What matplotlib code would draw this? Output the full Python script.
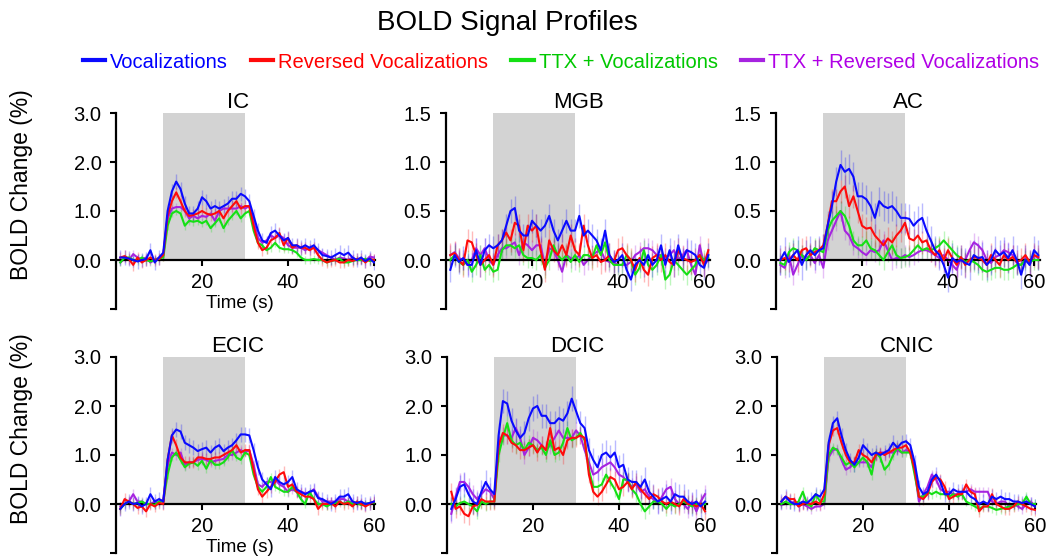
import numpy as np
import matplotlib.pyplot as plt
from matplotlib.lines import Line2D

plt.rcParams['font.family'] = ['Liberation Sans', 'DejaVu Sans']

# time axis (s), one sample per second
TIME = np.arange(1, 61)
TIME_LONG = np.arange(1, 62)

SERIES = ['Vocalizations', 'Reversed Vocalizations',
          'TTX + Vocalizations', 'TTX + Reversed Vocalizations']
LINE_COLORS = ['#0a0aff', '#ff0a0a', '#14e014', '#a623e0']
TEXT_COLORS = ['#0000ff', '#ff0000', '#00c800', '#b000e6']

STIM_ON, STIM_OFF = 11, 30

# ---- IC ----
ic_voc = [0.05, 0.05, 0.03, 0.0, -0.03, 0.0, 0.02, 0.2, -0.05, 0.05,
          0.15, 1.0, 1.4, 1.6, 1.45, 1.15, 0.95, 0.95, 1.05, 1.28,
          1.2, 1.05, 1.1, 1.05, 1.1, 1.15, 1.25, 1.25, 1.35, 1.3,
          1.2, 0.9, 0.6, 0.4, 0.35, 0.55, 0.6, 0.5, 0.4, 0.45,
          0.3, 0.3, 0.25, 0.3, 0.25, 0.3, 0.2, 0.1, 0.08, 0.05,
          0.1, 0.15, 0.1, 0.15, 0.05, 0.0, 0.05, -0.02, 0.03, -0.05]
ic_rev = [0.05, 0.08, 0.02, -0.1, 0.05, -0.05, 0.0, 0.05, 0.0, 0.02,
          0.1, 0.9, 1.2, 1.38, 1.2, 1.0, 0.9, 0.92, 0.95, 1.0,
          0.95, 0.92, 0.95, 1.0, 0.85, 1.0, 1.1, 1.2, 1.05, 1.1,
          1.1, 0.7, 0.35, 0.2, 0.25, 0.4, 0.45, 0.55, 0.3, 0.45,
          0.25, 0.3, 0.25, 0.25, 0.2, 0.25, 0.1, 0.0, -0.05, -0.02,
          0.0, -0.05, -0.05, 0.0, -0.02, 0.02, 0.03, -0.05, 0.02, 0.0]
ic_ttx_voc = [-0.05, 0.05, 0.05, 0.0, -0.02, 0.05, 0.0, -0.03, 0.0, 0.03,
              0.05, 0.7, 0.95, 1.0, 0.95, 0.7, 0.8, 0.78, 0.8, 0.75,
              0.8, 0.65, 0.75, 0.85, 0.65, 0.8, 0.9, 1.0, 0.85, 0.95,
              1.0, 0.6, 0.35, 0.3, 0.2, 0.25, 0.35, 0.25, 0.22, 0.22,
              0.2, 0.15, 0.05, 0.0, 0.0, 0.02, 0.0, 0.0, -0.05, -0.02,
              0.0, 0.03, -0.05, -0.05, -0.02, 0.0, 0.0, 0.02, -0.02, 0.0]
ic_ttx_rev = [-0.05, 0.02, 0.0, 0.12, 0.05, 0.02, 0.05, -0.05, 0.0, 0.05,
              0.1, 0.85, 1.05, 1.08, 1.08, 1.0, 0.85, 0.9, 0.85, 0.9,
              0.88, 0.95, 0.8, 1.0, 1.05, 1.05, 1.05, 1.05, 1.1, 1.05,
              1.1, 0.8, 0.45, 0.35, 0.4, 0.5, 0.45, 0.5, 0.45, 0.3,
              0.25, 0.25, 0.25, 0.2, 0.25, 0.25, 0.2, 0.15, 0.1, 0.05,
              0.0, 0.05, 0.03, 0.0, 0.05, 0.0, 0.0, -0.02, 0.07, 0.05]
ic_sem = [0.15, 0.12, 0.08, 0.08]

# ---- MGB ----
mgb_voc = [-0.1, 0.05, -0.02, 0.02, -0.05, -0.05, 0.1, -0.05, 0.1, 0.15,
           0.12, 0.15, 0.2, 0.35, 0.5, 0.53, 0.3, 0.25, 0.25, 0.4,
           0.35, 0.3, 0.35, 0.45, 0.3, 0.2, 0.3, 0.4, 0.3, 0.3,
           0.45, 0.25, 0.3, 0.25, 0.2, 0.1, 0.3, 0.05, -0.02, 0.0,
           0.05, -0.1, -0.2, -0.05, 0.0, -0.05, 0.05, -0.05, 0.0, 0.15,
           -0.05, 0.1, -0.05, 0.15, 0.0, 0.1, 0.08, 0.05, -0.05, -0.08, 0.05]
mgb_rev = [0.05, 0.07, 0.0, -0.05, 0.2, 0.18, 0.05, -0.05, 0.0, 0.05,
           -0.05, 0.15, 0.2, 0.28, 0.2, 0.38, 0.35, 0.1, 0.35, 0.3,
           0.35, 0.1, -0.1, 0.2, 0.1, 0.05, 0.15, 0.05, 0.25, 0.1,
           0.05, 0.35, 0.15, 0.02, 0.05, -0.02, 0.0, 0.05, -0.02, 0.1,
           0.12, 0.05, 0.0, -0.1, 0.02, -0.1, -0.15, 0.02, 0.05, 0.0,
           0.05, -0.02, -0.05, 0.1, 0.02, 0.0, -0.02, 0.0, 0.05, -0.05, 0.1]
mgb_ttx_voc = [0.0, 0.05, -0.02, -0.05, 0.0, -0.12, -0.05, 0.05, -0.1, -0.05,
               -0.12, -0.1, 0.1, 0.15, 0.15, 0.12, 0.15, 0.05, 0.02, 0.02,
               0.0, 0.05, -0.08, 0.0, 0.15, 0.05, 0.0, 0.05, -0.02, 0.05,
               -0.02, 0.05, 0.05, 0.02, 0.15, 0.05, 0.18, 0.0, -0.05, -0.05,
               -0.05, 0.05, 0.0, -0.15, -0.08, 0.1, -0.05, -0.1, -0.05, 0.05,
               -0.2, -0.15, 0.0, -0.05, -0.1, -0.15, -0.1, -0.05, 0.05, 0.0, 0.02]
mgb_ttx_rev = [0.05, 0.08, 0.02, 0.0, -0.05, 0.0, 0.12, 0.05, 0.12, 0.0,
               -0.05, 0.05, 0.12, 0.12, 0.15, 0.18, 0.05, 0.18, 0.15, 0.1,
               0.15, 0.15, -0.05, 0.12, 0.1, 0.0, -0.12, 0.05, 0.02, 0.0,
               0.05, -0.05, 0.0, 0.05, 0.08, 0.1, 0.0, -0.02, -0.02, -0.05,
               -0.05, -0.05, -0.02, 0.05, 0.08, 0.12, 0.12, 0.1, 0.05, 0.05,
               0.02, 0.05, 0.1, 0.0, 0.05, 0.1, -0.05, -0.15, 0.15, -0.05, 0.0]
mgb_sem = [0.12, 0.12, 0.1, 0.1]

# ---- AC ----
ac_voc = [0.0, 0.08, -0.02, 0.05, 0.1, -0.05, 0.05, 0.1, 0.05, 0.1,
          0.12, 0.35, 0.55, 0.8, 0.97, 0.9, 0.93, 0.85, 0.65, 0.65,
          0.62, 0.55, 0.43, 0.6, 0.55, 0.53, 0.55, 0.5, 0.43, 0.43,
          0.42, 0.35, 0.4, 0.43, 0.3, 0.2, 0.1, 0.05, -0.05, -0.18,
          0.02, -0.02, 0.0, -0.03, -0.05, 0.05, 0.02, 0.03, -0.05, 0.0,
          0.1, 0.05, 0.08, 0.02, 0.1, 0.0, -0.15, 0.0, -0.05, 0.1, 0.05]
ac_rev = [0.0, 0.02, 0.0, 0.05, 0.0, 0.1, 0.12, 0.05, 0.08, 0.1,
          0.15, 0.35, 0.6, 0.6, 0.7, 0.75, 0.55, 0.65, 0.5, 0.35,
          0.32, 0.33, 0.25, 0.2, 0.15, 0.22, 0.18, 0.25, 0.3, 0.38,
          0.22, 0.2, 0.25, 0.18, 0.2, 0.1, 0.05, 0.1, 0.0, 0.1,
          0.02, -0.05, 0.03, -0.05, 0.0, 0.03, 0.02, 0.0, -0.05, 0.05,
          0.0, -0.05, 0.05, 0.0, 0.03, -0.02, 0.0, 0.05, -0.02, 0.05, 0.03]
ac_ttx_voc = [-0.03, -0.05, 0.08, 0.12, 0.1, 0.05, 0.0, 0.05, 0.12, 0.1,
              0.08, 0.3, 0.4, 0.45, 0.5, 0.45, 0.35, 0.2, 0.15, 0.15,
              0.2, 0.12, 0.1, 0.05, 0.0, 0.08, 0.15, 0.05, 0.02, 0.03,
              0.05, 0.1, 0.15, 0.1, 0.12, 0.1, 0.12, 0.15, 0.2, 0.15,
              0.1, 0.05, 0.02, -0.02, 0.0, -0.02, -0.05, -0.1, -0.12, -0.1,
              -0.08, -0.08, -0.1, -0.1, -0.08, -0.05, -0.05, 0.0, -0.02, 0.0, 0.0]
ac_ttx_rev = [-0.05, -0.08, 0.05, -0.15, -0.05, 0.05, 0.02, 0.05, -0.03, 0.05,
              -0.08, 0.2, 0.3, 0.4, 0.5, 0.3, 0.25, 0.15, 0.12, 0.08,
              0.05, 0.1, 0.08, 0.1, 0.2, 0.1, 0.0, 0.02, 0.02, 0.05,
              0.03, 0.05, 0.08, 0.1, 0.1, 0.08, 0.05, 0.02, 0.05, 0.0,
              -0.05, -0.1, 0.02, 0.0, 0.1, 0.18, 0.15, 0.1, 0.0, -0.03,
              0.03, 0.05, 0.1, 0.08, 0.05, -0.03, -0.05, 0.02, -0.05, 0.05, 0.02]
ac_sem = [0.15, 0.12, 0.1, 0.1]

# ---- ECIC ----
ecic_voc = [-0.1, 0.0, 0.05, 0.0, 0.02, -0.05, 0.0, 0.2, 0.05, 0.1,
            0.05, 0.9, 1.4, 1.52, 1.48, 1.25, 1.2, 1.15, 1.08, 1.12,
            1.15, 1.05, 1.15, 1.2, 1.08, 1.15, 1.2, 1.3, 1.42, 1.42,
            1.4, 1.1, 0.75, 0.5, 0.4, 0.3, 0.55, 0.45, 0.4, 0.45,
            0.55, 0.3, 0.25, 0.2, 0.25, 0.28, 0.12, 0.1, 0.05, 0.0,
            0.05, 0.15, 0.15, 0.2, 0.05, 0.02, 0.05, 0.0, 0.02, 0.05]
ecic_rev = [-0.1, 0.1, 0.05, 0.0, -0.08, -0.05, -0.15, 0.0, -0.05, 0.02,
            0.0, 0.9, 1.4, 1.2, 0.95, 0.85, 0.85, 0.85, 0.95, 0.95,
            0.92, 0.92, 0.95, 0.95, 1.0, 1.05, 1.1, 1.2, 1.05, 1.1,
            1.1, 0.7, 0.3, 0.15, 0.25, 0.35, 0.45, 0.6, 0.65, 0.35,
            0.4, 0.25, 0.2, 0.15, 0.15, 0.1, -0.1, 0.0, 0.0, 0.02,
            -0.05, 0.05, 0.0, 0.02, -0.05, 0.05, 0.0, -0.05, 0.0, 0.05]
ecic_ttx_voc = [-0.1, 0.0, 0.05, 0.0, 0.02, 0.05, 0.0, 0.0, -0.02, 0.05,
                0.05, 0.6, 0.95, 1.05, 0.9, 0.75, 0.82, 0.85, 0.78, 0.88,
                0.72, 0.9, 0.8, 0.8, 0.85, 0.95, 1.1, 0.95, 0.9, 1.05,
                1.0, 0.6, 0.35, 0.25, 0.35, 0.55, 0.35, 0.3, 0.25, 0.25,
                0.35, 0.25, 0.1, 0.0, 0.25, 0.1, 0.0, 0.0, -0.05, 0.0,
                0.02, 0.05, 0.0, 0.05, 0.0, 0.02, -0.02, 0.0, 0.02, 0.03]
ecic_ttx_rev = [-0.05, 0.0, 0.05, 0.2, 0.05, 0.05, 0.0, 0.0, 0.05, 0.02,
                0.1, 0.8, 1.05, 1.0, 1.05, 0.8, 0.85, 0.85, 0.9, 0.92,
                0.9, 0.85, 0.88, 0.9, 0.92, 1.0, 1.0, 1.05, 1.1, 1.05,
                1.1, 0.8, 0.4, 0.35, 0.45, 0.45, 0.5, 0.4, 0.35, 0.25,
                0.3, 0.25, 0.25, 0.22, 0.22, 0.3, 0.15, 0.05, 0.05, 0.05,
                0.05, 0.1, 0.1, 0.05, 0.05, 0.0, 0.0, -0.02, 0.02, 0.05]
ecic_sem = [0.15, 0.12, 0.08, 0.1]

# ---- DCIC ----
dcic_voc = [-0.1, 0.1, 0.35, 0.4, 0.2, 0.05, 0.0, 0.25, 0.45, 0.3,
            0.2, 1.4, 2.1, 2.05, 1.7, 1.5, 1.35, 1.45, 1.75, 1.95,
            2.0, 1.8, 1.8, 1.65, 1.65, 1.75, 1.7, 1.85, 2.15, 1.9,
            1.65, 1.55, 1.1, 0.9, 0.75, 1.0, 1.05, 0.95, 1.05, 0.75,
            0.8, 0.5, 0.45, 0.45, 0.35, 0.5, 0.25, 0.15, 0.05, 0.1,
            0.15, 0.05, 0.2, 0.15, 0.15, 0.05, 0.0, 0.05, -0.05, 0.05]
dcic_rev = [0.25, -0.1, -0.05, -0.2, -0.25, -0.05, -0.02, 0.1, 0.05, 0.05,
            0.05, 1.2, 1.45, 1.4, 1.25, 1.2, 1.1, 1.1, 1.15, 1.2,
            1.05, 1.2, 1.1, 1.55, 1.1, 1.15, 1.0, 1.3, 1.35, 1.35,
            1.4, 1.35, 0.6, 0.25, 0.15, 0.25, 0.4, 0.55, 0.5, 0.3,
            0.35, 0.45, 0.3, 0.45, 0.3, 0.2, 0.1, 0.2, 0.15, 0.05,
            0.0, 0.05, 0.0, -0.05, 0.1, 0.0, 0.0, -0.05, 0.0, -0.15]
dcic_ttx_voc = [0.0, -0.05, 0.02, 0.05, 0.0, -0.05, -0.15, 0.05, 0.0, 0.05,
                0.05, 1.0, 1.35, 1.65, 1.3, 1.2, 1.25, 1.1, 1.25, 1.2,
                1.1, 1.15, 1.0, 1.3, 1.0, 1.05, 1.25, 1.55, 1.3, 1.35,
                1.45, 1.3, 0.7, 0.35, 0.35, 0.4, 0.6, 0.45, 0.3, 0.1,
                0.5, 0.5, 0.3, 0.2, 0.0, -0.15, -0.05, 0.05, 0.05, 0.0,
                -0.1, 0.0, -0.05, 0.0, 0.05, 0.0, -0.05, 0.0, -0.02, 0.0]
dcic_ttx_rev = [-0.2, 0.15, 0.45, 0.45, 0.35, 0.2, 0.1, 0.2, 0.3, 0.25,
                0.1, 1.2, 1.4, 1.4, 1.35, 1.55, 1.35, 1.0, 1.15, 1.35,
                1.3, 1.2, 1.1, 1.2, 1.35, 1.5, 1.35, 1.35, 1.35, 1.5,
                1.4, 1.1, 0.85, 0.6, 0.65, 0.75, 0.8, 0.85, 0.75, 0.6,
                0.55, 0.45, 0.35, 0.4, 0.25, 0.3, 0.15, 0.1, 0.0, 0.15,
                0.3, 0.35, 0.1, 0.0, 0.0, -0.1, 0.05, -0.15, 0.05, 0.2]
dcic_sem = [0.25, 0.18, 0.15, 0.18]

# ---- CNIC ----
cnic_voc = [0.05, 0.15, 0.05, 0.0, 0.0, 0.05, 0.02, 0.1, 0.2, 0.15,
            0.3, 1.25, 1.65, 1.75, 1.4, 1.1, 0.9, 0.8, 0.95, 1.2,
            1.1, 1.0, 1.05, 1.0, 1.05, 1.1, 1.25, 1.15, 1.25, 1.28,
            1.2, 0.85, 0.35, 0.2, 0.25, 0.5, 0.6, 0.45, 0.2, 0.2,
            0.3, 0.25, 0.25, 0.25, 0.15, 0.1, 0.0, 0.05, 0.0, 0.15,
            0.1, 0.15, 0.1, 0.1, 0.05, 0.05, 0.02, 0.05, 0.0, -0.05]
cnic_rev = [0.05, 0.15, 0.1, 0.1, -0.05, 0.0, 0.02, 0.0, 0.05, 0.0,
            0.2, 1.2, 1.5, 1.55, 1.25, 1.0, 0.85, 0.85, 1.1, 1.0,
            0.95, 0.85, 1.0, 1.05, 1.0, 1.05, 1.1, 1.15, 1.15, 1.2,
            1.05, 0.7, 0.15, 0.1, 0.2, 0.45, 0.55, 0.5, 0.35, 0.1,
            0.15, 0.2, 0.2, 0.4, 0.25, 0.2, -0.15, -0.05, -0.05, 0.2,
            0.0, -0.05, -0.1, -0.1, -0.05, 0.05, 0.0, -0.05, -0.1, -0.12]
cnic_ttx_voc = [0.0, 0.05, 0.0, 0.0, 0.05, 0.25, 0.0, -0.05, 0.2, 0.05,
                0.05, 1.0, 1.15, 1.1, 0.95, 0.8, 0.85, 0.75, 0.85, 0.95,
                0.85, 0.6, 1.05, 0.95, 0.7, 0.8, 1.0, 1.15, 1.05, 1.05,
                1.05, 0.6, 0.15, 0.15, 0.25, 0.2, 0.25, 0.2, 0.2, 0.15,
                0.2, 0.15, 0.2, 0.05, 0.0, -0.05, -0.1, -0.05, -0.05, -0.08,
                -0.12, -0.1, -0.08, -0.05, -0.05, 0.0, 0.0, 0.15, 0.0, 0.0]
cnic_ttx_rev = [-0.02, 0.0, 0.0, 0.05, -0.05, 0.0, -0.05, -0.1, -0.05, -0.05,
                0.0, 0.95, 1.1, 1.12, 0.9, 0.7, 0.75, 0.85, 0.85, 0.85,
                0.85, 0.75, 1.0, 1.05, 1.05, 1.05, 1.05, 1.1, 1.05, 1.1,
                1.05, 0.7, 0.05, 0.2, 0.35, 0.6, 0.5, 0.3, 0.25, 0.25,
                0.2, 0.2, 0.25, 0.25, 0.3, 0.25, 0.25, 0.25, 0.25, 0.05,
                0.0, 0.05, 0.05, -0.05, 0.0, -0.05, -0.1, 0.0, 0.05, -0.05]
cnic_sem = [0.15, 0.12, 0.1, 0.1]

# name, time, series, sem, y-range, y ticks, x end, show time label
panels = [
    ('IC', TIME, [ic_voc, ic_rev, ic_ttx_voc, ic_ttx_rev], ic_sem,
     (-1, 3), [-1, 0, 1, 2, 3], 60.3, True),
    ('MGB', TIME_LONG, [mgb_voc, mgb_rev, mgb_ttx_voc, mgb_ttx_rev], mgb_sem,
     (-0.5, 1.5), [-0.5, 0, 0.5, 1.0, 1.5], 61.5, False),
    ('AC', TIME_LONG, [ac_voc, ac_rev, ac_ttx_voc, ac_ttx_rev], ac_sem,
     (-0.5, 1.5), [-0.5, 0, 0.5, 1.0, 1.5], 61.5, False),
    ('ECIC', TIME, [ecic_voc, ecic_rev, ecic_ttx_voc, ecic_ttx_rev], ecic_sem,
     (-1, 3), [-1, 0, 1, 2, 3], 60.3, True),
    ('DCIC', TIME, [dcic_voc, dcic_rev, dcic_ttx_voc, dcic_ttx_rev], dcic_sem,
     (-1, 3), [-1, 0, 1, 2, 3], 60.5, False),
    ('CNIC', TIME, [cnic_voc, cnic_rev, cnic_ttx_voc, cnic_ttx_rev], cnic_sem,
     (-1, 3), [-1, 0, 1, 2, 3], 60.3, False),
]

W, H = 1048, 556
fig = plt.figure(figsize=(W / 100, H / 100), dpi=100)

col_left = [116, 446, 776]
row_top = [113, 357]
ax_h = 196
px_per_s = 4.3

for i, (name, t, series, sem, ylim, yticks, xend, time_label) in enumerate(panels):
    r, c = divmod(i, 3)
    left = col_left[c] + (1 if r == 1 and c > 0 else 0)
    ax = fig.add_axes([left / W, 1 - (row_top[r] + ax_h) / H,
                       px_per_s * xend / W, ax_h / H])

    # stimulus period
    ax.fill_between([STIM_ON, STIM_OFF], 0, ylim[1], color='#d3d3d3',
                    lw=0, zorder=0)

    order = [3, 2, 1, 0]
    for k in order:
        y = np.asarray(series[k])
        ax.vlines(t, y - sem[k], y + sem[k], color=LINE_COLORS[k],
                  lw=1.0, alpha=0.28, zorder=1)
    for k in order:
        ax.plot(t, series[k], color=LINE_COLORS[k], lw=1.5, zorder=2 + (3 - k))

    ax.set_xlim(0, xend)
    ax.set_ylim(*ylim)
    ax.set_yticks(yticks)
    ax.set_yticklabels([''] + ['%.1f' % v for v in yticks[1:]])
    ax.set_xticks([20, 40, 60])
    ax.set_xticklabels(['20', '40', '60'])

    for side in ['top', 'right']:
        ax.spines[side].set_visible(False)
    ax.spines['bottom'].set_position(('data', 0))
    ax.spines['left'].set_linewidth(1.6)
    ax.spines['bottom'].set_linewidth(1.6)
    ax.patch.set_alpha(0)
    ax.tick_params(axis='both', direction='out', length=4, width=1.5,
                   labelsize=14.5)
    ax.tick_params(axis='y', pad=6.5)
    ax.tick_params(axis='x', pad=5)

    ax.text(0.47 if c == 0 else 0.5, 1.0, name, transform=ax.transAxes,
            fontsize=16, ha='center', va='bottom')

    if time_label:
        fig.text(240 / W, 1 - (row_top[r] + 190) / H, 'Time (s)',
                 fontsize=13.5, ha='center', va='center')

    if c == 0:
        fig.text(22 / W, 1 - (row_top[r] + 72) / H, 'BOLD Change (%)',
                 rotation=90, fontsize=16.5, ha='center', va='center')

fig.text(507 / W, 1 - 23 / H, 'BOLD Signal Profiles', fontsize=20,
         ha='center', va='center')

handles = [Line2D([], [], color=LINE_COLORS[k], lw=3) for k in range(4)]
leg = fig.legend(handles, SERIES, loc='center', ncol=4,
                 bbox_to_anchor=(561 / W, 1 - 62 / H), frameon=False,
                 fontsize=14.5, handlelength=1.1, handletextpad=0.25,
                 columnspacing=1.15, borderpad=0, labelcolor=TEXT_COLORS)

fig.savefig('out.png', dpi=100)
